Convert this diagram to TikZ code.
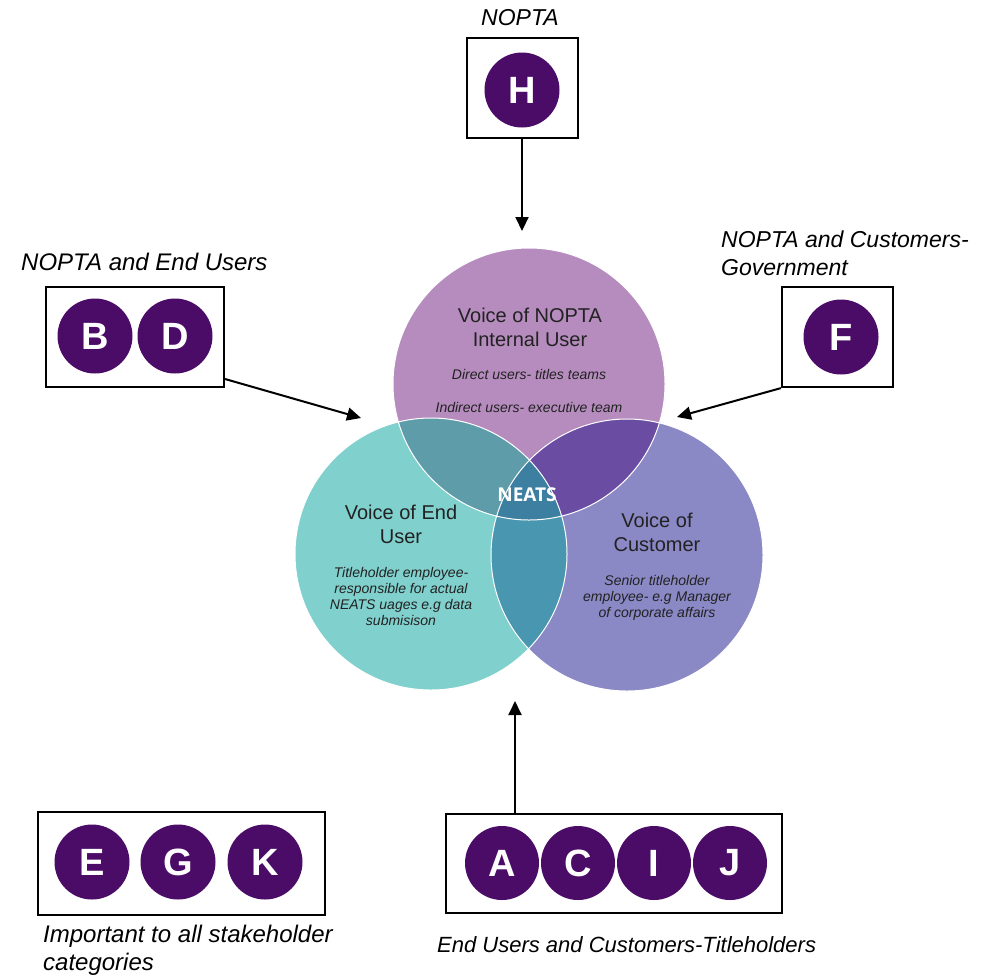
\documentclass[tikz,border=0pt]{standalone}
\usepackage{fontspec}
\setmainfont{Liberation Sans}
\newfontfamily\neatsfont{Open Sans}
\usetikzlibrary{arrows.meta}

\definecolor{stakeholder}{HTML}{4A0C66}
\definecolor{vTop}{HTML}{B58CBD}
\definecolor{vLeft}{HTML}{80D0CD}
\definecolor{vRight}{HTML}{8A88C5}
\definecolor{vTL}{HTML}{5E9CAA}
\definecolor{vTR}{HTML}{6A4DA3}
\definecolor{vLR}{HTML}{4896AF}
\definecolor{vAll}{HTML}{3D7FA0}
\definecolor{textgrey}{HTML}{222222}

\tikzstyle{groupbox}=[rectangle, draw=black, line width=2.2pt, inner sep=0pt]
\tikzstyle{letter}=[circle, fill=stakeholder, text=white, font=\fontsize{38}{38}\selectfont\bfseries, minimum size=75pt, inner sep=0pt]
\tikzstyle{caption}=[font=\fontsize{23}{28}\selectfont\itshape, anchor=base west, inner sep=0pt]
\tikzstyle{pointer}=[line width=2pt, -{Triangle[length=14pt,width=13pt]}]
\tikzstyle{voice}=[font=\fontsize{20}{24}\selectfont, text=textgrey, align=center, inner sep=0pt]
\tikzstyle{remark}=[font=\fontsize{14}{16}\selectfont\itshape, text=textgrey, align=center, inner sep=0pt]
\tikzstyle{venn}=[radius=136pt]

\begin{document}
\begin{tikzpicture}[x=1pt, y=-1pt]
    \useasboundingbox (0,0) rectangle (992,975);

    % venn diagram
    \coordinate (cTop) at (529,384);
    \coordinate (cLeft) at (431,554);
    \coordinate (cRight) at (627,555);
    \fill[vTop] (cTop) circle[venn];
    \fill[vLeft] (cLeft) circle[venn];
    \fill[vRight] (cRight) circle[venn];
    \begin{scope}
        \clip (cTop) circle[venn];
        \fill[vTL] (cLeft) circle[venn];
        \fill[vTR] (cRight) circle[venn];
    \end{scope}
    \begin{scope}
        \clip (cLeft) circle[venn];
        \fill[vLR] (cRight) circle[venn];
        \clip (cTop) circle[venn];
        \fill[vAll] (cRight) circle[venn];
    \end{scope}
    \draw[white, line width=1pt] (cTop) circle[venn] (cLeft) circle[venn] (cRight) circle[venn];

    \node[voice] (internal) at (530,327) {Voice of NOPTA\\Internal User};
    \node[remark] (direct) at (529,374) {Direct users- titles teams};
    \node[remark] (indirect) at (529,407) {Indirect users- executive team};
    \node[voice] (enduser) at (401,524) {Voice of End\\User};
    \node[remark] (enduserinfo) at (401,596) {Titleholder employee-\\responsible for actual\\NEATS uages e.g data\\submisison};
    \node[voice] (customer) at (657,532) {Voice of\\Customer};
    \node[remark] (customerinfo) at (657,598) {Senior titleholder\\employee- e.g Manager\\of corporate affairs};
    \node[text=white, font=\neatsfont\fontsize{19}{20}\selectfont\bfseries, inner sep=0pt] (neats) at (527,495) {NEATS};

    % stakeholder groups
    \node[groupbox, minimum width=111pt, minimum height=100pt] (boxH) at (522.5,88) {};
    \node[letter] (H) at (522,90) {H};
    \node[caption] (capH) at (481,25) {NOPTA};

    \node[groupbox, minimum width=178pt, minimum height=100pt] (boxBD) at (135,337) {};
    \node[letter] (B) at (95,336) {B};
    \node[letter] (D) at (175,336) {D};
    \node[caption, font=\fontsize{24}{28}\selectfont\itshape] (capBD) at (21,270) {NOPTA and End Users};

    \node[groupbox, minimum width=111pt, minimum height=100pt] (boxF) at (837.5,337) {};
    \node[letter] (F) at (841,337) {F};
    \node[caption] (capF) at (721,247) {NOPTA and Customers-};
    \node[caption] (capFb) at (721,275) {Government};

    \node[groupbox, minimum width=287pt, minimum height=103pt] (boxEGK) at (181.5,863.5) {};
    \node[letter] (E) at (92,862) {E};
    \node[letter] (G) at (178,862) {G};
    \node[letter] (K) at (265,862) {K};
    \node[caption, font=\fontsize{24}{28}\selectfont\itshape] (capEGK) at (43,942) {Important to all stakeholder};
    \node[caption, font=\fontsize{24}{28}\selectfont\itshape] (capEGKb) at (43,970) {categories};

    \node[groupbox, minimum width=336pt, minimum height=99pt] (boxACIJ) at (614,863.5) {};
    \node[letter, minimum size=74pt] (A) at (502,863) {A};
    \node[letter, minimum size=74pt] (C) at (578,863) {C};
    \node[letter, minimum size=74pt] (I) at (654,863) {I};
    \node[letter, minimum size=74pt] (J) at (730,863) {J};
    \node[caption, font=\fontsize{22}{26}\selectfont\itshape] (capACIJ) at (437,952) {End Users and Customers-Titleholders};

    % arrows into the venn
    \coordinate (tipH) at (522,231);
    \coordinate (tipBD) at (361,418);
    \coordinate (tipF) at (677,417);
    \coordinate (tipACIJ) at (515,701);
    \draw[pointer] (boxH.south -| tipH) -- (tipH);
    \draw[pointer] (boxBD.-25) -- (tipBD);
    \draw[pointer] (boxF.south west) -- (tipF);
    \draw[pointer] (boxACIJ.north -| tipACIJ) -- (tipACIJ);
\end{tikzpicture}
\end{document}
